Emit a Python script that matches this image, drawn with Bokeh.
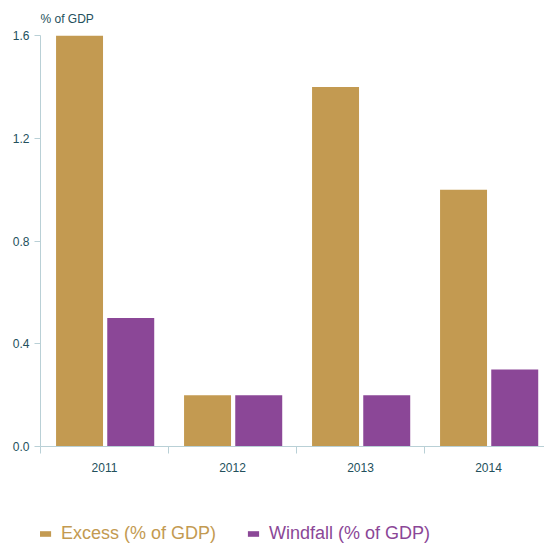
from bokeh.plotting import figure
from bokeh.layouts import column
from bokeh.models import (ColumnDataSource, Range1d, FixedTicker, NumeralTickFormatter,
                          Legend, LegendItem)
from bokeh.transform import dodge
from bokeh.embed import file_html
from bokeh.resources import INLINE

years = ["2011", "2012", "2013", "2014"]
excess = [1.6, 0.2, 1.4, 1.0]
windfall = [0.5, 0.2, 0.2, 0.3]
y_ticks = [0.0, 0.4, 0.8, 1.2, 1.6]
series_labels = ["Excess (% of GDP)", "Windfall (% of GDP)"]

GOLD = "#C39A51"
PURPLE = "#8B4797"
AXIS = "#B9D0D6"
TEXT = "#23505C"
FONT = "Liberation Sans"

centers = [i + 0.5 for i in range(len(years))]
src = ColumnDataSource(dict(x=centers, excess=excess, windfall=windfall))

p = figure(width=544, height=490, output_backend="svg", toolbar_location=None,
           x_range=Range1d(0, 3.9375), y_range=Range1d(0, 1.6),
           min_border_left=40, min_border_right=0, min_border_top=35,
           min_border_bottom=44, title="% of GDP")

p.title.text_font = FONT
p.title.text_font_size = "12px"
p.title.text_font_style = "normal"
p.title.text_color = TEXT
p.title.align = "left"
p.title.standoff = 19

r1 = p.vbar(x=dodge("x", -0.195, range=p.x_range), top="excess", width=0.367,
            source=src, color=GOLD, line_color=None)
r2 = p.vbar(x=dodge("x", 0.205, range=p.x_range), top="windfall", width=0.367,
            source=src, color=PURPLE, line_color=None)

p.outline_line_color = None
p.xgrid.grid_line_color = None
p.ygrid.ticker = FixedTicker(ticks=[1.6])
p.ygrid.grid_line_color = AXIS
p.ygrid.grid_line_alpha = 1.0

xa = p.xaxis[0]
xa.ticker = FixedTicker(ticks=centers, minor_ticks=[0, 1, 2, 3])
xa.major_label_overrides = {c: y for c, y in zip(centers, years)}
xa.major_tick_line_color = None
xa.minor_tick_line_color = AXIS
xa.minor_tick_in = 0
xa.minor_tick_out = 7
xa.axis_line_color = AXIS
xa.major_label_text_font = FONT
xa.major_label_text_font_size = "12px"
xa.major_label_text_color = TEXT
xa.major_label_standoff = 9

ya = p.yaxis[0]
ya.ticker = FixedTicker(ticks=y_ticks)
ya.formatter = NumeralTickFormatter(format="0.0")
ya.axis_line_color = AXIS
ya.major_tick_line_color = AXIS
ya.major_tick_in = 0
ya.major_tick_out = 6
ya.minor_tick_line_color = None
ya.major_label_text_font = FONT
ya.major_label_text_font_size = "12px"
ya.major_label_text_color = TEXT
ya.major_label_standoff = 5

# legend strip as a separate, axis-less figure; its legend items point at
# renderers that share the main chart's data source but sit outside the view
lf = figure(width=544, height=55, output_backend="svg", toolbar_location=None,
            x_range=Range1d(100, 101), y_range=Range1d(100, 101),
            x_axis_location=None, y_axis_location=None,
            min_border=0, min_border_left=0, min_border_right=0,
            min_border_top=0, min_border_bottom=0)
lf.grid.visible = False
lf.outline_line_color = None
g1 = lf.vbar(x="x", top="excess", width=0.367, source=src, color=GOLD, line_color=None)
g2 = lf.vbar(x="x", top="windfall", width=0.367, source=src, color=PURPLE, line_color=None)

def make_legend(label, rend, color, loc):
    return Legend(items=[LegendItem(label=label, renderers=[rend])], location=loc,
                  orientation="horizontal", glyph_width=14, glyph_height=7,
                  label_text_font=FONT, label_text_font_size="18px",
                  label_text_color=color, label_standoff=9, padding=0, margin=0,
                  border_line_color=None, background_fill_alpha=0,
                  label_height=20, label_text_baseline="middle")

lf.add_layout(make_legend(series_labels[0], g1, GOLD, (-2, 1)), "center")
lf.add_layout(make_legend(series_labels[1], g2, PURPLE, (206, 1)), "center")

layout = column(p, lf, spacing=0)
open("out.html", "w").write(file_html(layout, INLINE))
